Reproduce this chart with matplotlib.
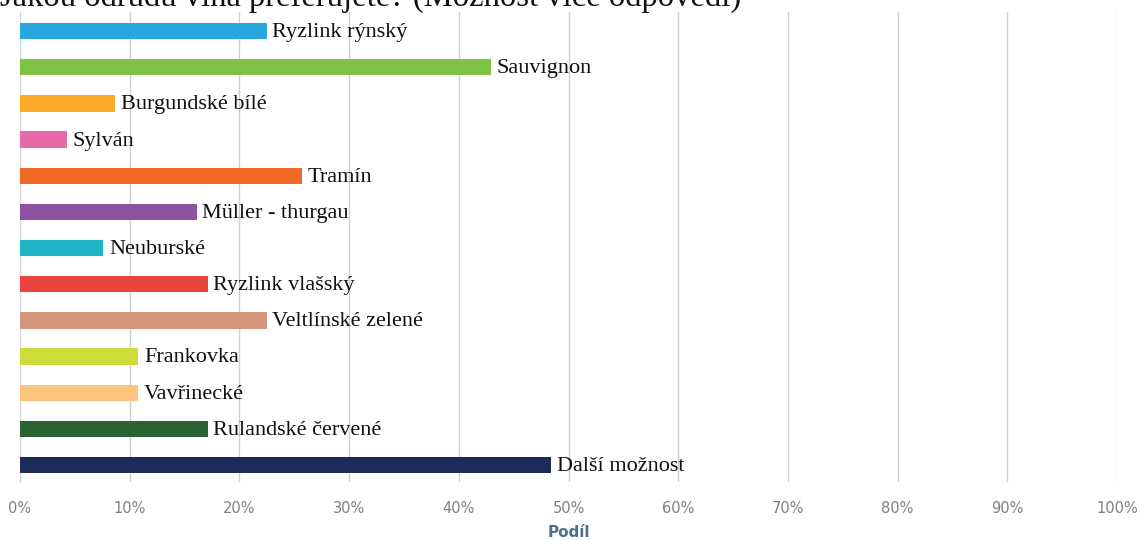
import matplotlib
matplotlib.use('Agg')
import matplotlib.pyplot as plt
from matplotlib.ticker import PercentFormatter

# odrudy a podil odpovedi (v %)
odrudy = ['Ryzlink rýnský', 'Sauvignon', 'Burgundské bílé', 'Sylván', 'Tramín',
          'Müller - thurgau', 'Neuburské', 'Ryzlink vlašský', 'Veltlínské zelené',
          'Frankovka', 'Vavřinecké', 'Rulandské červené', 'Další možnost']
podil = [22.5, 42.9, 8.7, 4.3, 25.7, 16.1, 7.6, 17.1, 22.5, 10.8, 10.8, 17.1, 48.4]
barvy = ['#29a8e0', '#7dc242', '#fbaa2a', '#e868a8', '#f06a25', '#8e52a1', '#1fb5c9',
         '#e8453c', '#d4967a', '#cddc39', '#fcc47c', '#2a6334', '#1c2b5a']
x_ticks = [0, 10, 20, 30, 40, 50, 60, 70, 80, 90, 100]

fig = plt.figure(figsize=(11.46, 5.4), dpi=100)
ax = fig.add_axes([20 / 1146, 1 - 482 / 540, 1097 / 1146, 470 / 540])

pozice = list(range(len(odrudy)))
ax.barh(pozice, podil, height=0.45, color=barvy, zorder=3)

# popisky vpravo od sloupcu
for y, val, name in zip(pozice, podil, odrudy):
    ax.annotate(name, (val, y), xytext=(4, -1), textcoords='offset points',
                va='center', ha='left', fontsize=16, family='Liberation Serif',
                color='#111111', zorder=4)

ax.set_xlim(0, 100)
ax.set_ylim(12.47, -0.53)
ax.set_xticks(x_ticks)
ax.xaxis.set_major_formatter(PercentFormatter(decimals=0))
ax.set_yticks([])
ax.grid(axis='x', color='#d0d0d0', linewidth=1, zorder=0)
for s in ['top', 'right', 'bottom']:
    ax.spines[s].set_visible(False)
ax.spines['left'].set_color('#d8d8d8')
ax.tick_params(axis='x', length=0, pad=14, labelsize=10.5, labelcolor='#808080')
ax.set_xlabel('Podíl', fontsize=11, fontweight='bold', color='#4e6e8e', labelpad=6)

# nadpis je v originale oriznuty horni hranou
fig.text(0.0, 1 - 6 / 540, 'Jakou odrůdu vína preferujete? (Možnost více odpovědí)',
         fontsize=23.5, family='Liberation Serif', va='baseline', ha='left', color='#111111')

fig.savefig('out.png', dpi=100)
